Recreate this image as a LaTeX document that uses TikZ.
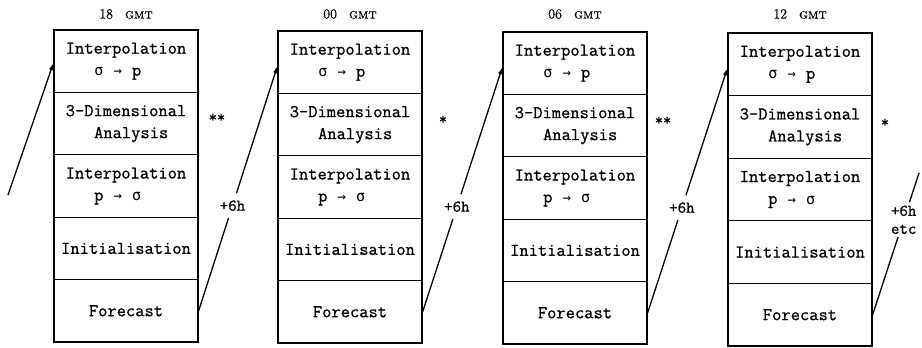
\documentclass[tikz,border=0pt]{standalone}
\usepackage{fontspec}
\newfontfamily\symfont{DejaVu Sans Mono}
\newfontfamily\boxfont[FakeBold=0.8]{Latin Modern Mono}
\newfontfamily\ttlfont[FakeBold=0.5]{Latin Modern Roman}
\newfontfamily\ttlsc[FakeBold=0.5]{Latin Modern Roman Caps}
\usetikzlibrary{arrows.meta}
\newcommand\cel[1]{\makebox[9.45pt]{#1}}
\newcommand\sg{{\symfont\fontsize{15}{15}\selectfont σ}}
\newcommand\ar{{\symfont\fontsize{14}{14}\selectfont →}}
\tikzset{
  stagebox/.style={draw, line width=1.3pt, minimum width=144pt, inner sep=0pt,
    font=\boxfont\fontsize{18}{22}\selectfont, align=left},
  ttl/.style={inner sep=1pt, font=\ttlfont\fontsize{14}{16}\selectfont},
  starlbl/.style={inner sep=1pt, font=\boxfont\fontsize{16}{18}\selectfont},
  lbl/.style={inner xsep=1pt, inner ysep=7pt, font=\boxfont\fontsize{16.5}{18}\selectfont},
  conn/.style={line width=1.3pt},
  arr/.style={-{Latex[length=7pt,width=4.5pt]}}
}
\begin{document}
\begin{tikzpicture}[x=1pt,y=-1pt]
\useasboundingbox (0,0) rectangle (922,348);
\foreach \i/\L/\T/\B/\tt/\s/\sx/\sy in {1/54/30/342/18/{**}/217/118,2/278/31/343/00/{*}/443/120,3/503/32/344/06/{**}/663/121,4/728/33/346/12/{*}/885/123}{
  \pgfmathsetmacro\h{(\B-\T)/5}
  \pgfmathsetmacro\cx{\L+72}
  \node[ttl] (t\i) at (\cx,14) {\tt\hspace{12pt}{\ttlsc gmt}};
  \node[stagebox, minimum height=\h pt] (c\i-1) at (\cx,{\T+0.5*\h}) {Interpolation\\\cel{}\cel{}\cel{}\cel{\sg}\cel{}\cel{\ar}\cel{}\cel{p}};
  \node[stagebox, minimum height=\h pt] (c\i-2) at (\cx,{\T+1.5*\h}) {3-Dimensional\\\cel{}\cel{}\cel{}Analysis};
  \node[stagebox, minimum height=\h pt] (c\i-3) at (\cx,{\T+2.5*\h}) {Interpolation\\\cel{}\cel{}\cel{}\cel{p}\cel{}\cel{\ar}\cel{}\cel{\sg}};
  \node[stagebox, minimum height=\h pt] (c\i-4) at (\cx,{\T+3.5*\h}) {Initialisation};
  \node[stagebox, minimum height=\h pt] (c\i-5) at (\cx,{\T+4.5*\h}) {Forecast};
  \node[starlbl] (s\i) at (\sx,\sy) {\s};
}
\coordinate (in) at (8,195);
\draw[conn,arr] (in) -- ([yshift=-2pt]c1-1.west);
\foreach \a/\b in {1/2,2/3,3/4}{
  \path (c\a-5.east) -- ([yshift=-4pt]c\b-1.west) node[pos=0.43,lbl] (h\a) {+6h};
  \draw[conn] (c\a-5.east) -- (h\a);
  \draw[conn,arr] (h\a) -- ([yshift=-4pt]c\b-1.west);
}
\coordinate (out) at (919,173);
\path (c4-5.east) -- (out) node[pos=0.67,lbl,align=center,inner ysep=3pt] (h4) {+6h\\etc};
\draw[conn] (c4-5.east) -- (h4);
\draw[conn] (h4) -- (out);
\end{tikzpicture}
\end{document}
